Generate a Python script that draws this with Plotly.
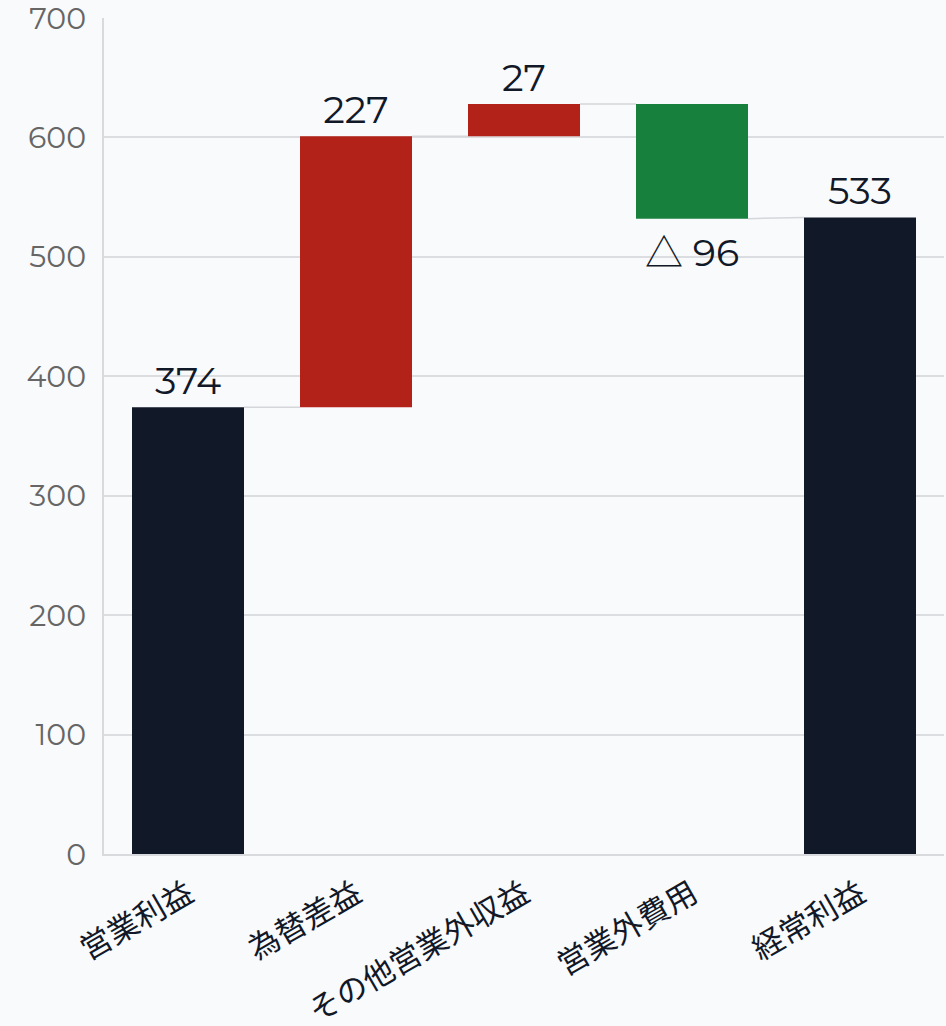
import plotly.graph_objects as go

categories = ["営業利益", "為替差益", "その他営業外収益", "営業外費用", "経常利益"]
values = [374, 227, 27, -96, 533]
measures = ["absolute", "relative", "relative", "relative", "total"]
labels = ["374", "227", "27", "△ 96", "533"]
y_ticks = [0, 100, 200, 300, 400, 500, 600, 700]

NAVY = "#111827"
RED = "#b22219"
GREEN = "#17803d"
BG = "#f9fafc"
NUMFONT = "Montserrat, Noto Sans CJK JP, Noto Sans, sans-serif"

# compute bases
bases, heights, colors = [], [], []
running = 0
for v, m in zip(values, measures):
    if m in ("absolute", "total"):
        bases.append(0)
        heights.append(v)
        colors.append(NAVY)
        running = v
    else:
        bases.append(running)
        heights.append(v)
        colors.append(RED if v >= 0 else GREEN)
        running += v

# render the triangle with a CJK font (large glyph as in the reference)
texts = [t.replace("△", "<span style='font-family:Noto Sans CJK JP'>△</span>") for t in labels]

xs = list(range(len(categories)))
W = 2 / 3

fig = go.Figure()

# connectors
for i in range(len(xs) - 1):
    end_i = bases[i] + heights[i]
    nxt = bases[i + 1] if measures[i + 1] == "relative" else heights[i + 1]
    fig.add_trace(go.Scatter(
        x=[xs[i] + W / 2, xs[i + 1] - W / 2], y=[end_i, nxt],
        mode="lines", line=dict(color="#d4d6da", width=1.5),
        hoverinfo="skip", showlegend=False, cliponaxis=False))

fig.add_trace(go.Bar(
    x=xs, y=heights, base=bases, width=W,
    marker=dict(color=colors, line=dict(width=0)),
    text=texts, textposition="outside",
    textfont=dict(family=NUMFONT, size=38, color=NAVY),
    cliponaxis=False, showlegend=False))

fig.update_layout(
    width=946, height=1026,
    paper_bgcolor=BG, plot_bgcolor=BG,
    margin=dict(l=104, r=2, t=18, b=172),
    font=dict(family="Noto Sans, Noto Sans CJK JP, sans-serif"),
    xaxis=dict(
        range=[-0.5, 4.5], tickmode="array", tickvals=xs, ticktext=categories,
        tickangle=-30, showgrid=False, showline=True, linecolor="#d9dadd", linewidth=2,
        ticks="outside", ticklen=8, tickcolor="rgba(0,0,0,0)",
        tickfont=dict(family="Noto Sans CJK JP", size=31, color=NAVY),
        zeroline=False, automargin=False),
    yaxis=dict(
        range=[0, 700], tickvals=y_ticks, showgrid=True, gridcolor="#dcdde0", gridwidth=1.5,
        showline=True, linecolor="#d9dadd", linewidth=2,
        ticks="outside", ticklen=10, tickcolor="rgba(0,0,0,0)",
        ticklabeloverflow="allow",
        tickfont=dict(family=NUMFONT, size=30, color="#666666"),
        zeroline=False, automargin=False),
)

fig.write_html(
    "out.html",
    config={"displayModeBar": False},
    post_script="document.body.style.margin='0';document.body.style.background='%s';" % BG,
)
